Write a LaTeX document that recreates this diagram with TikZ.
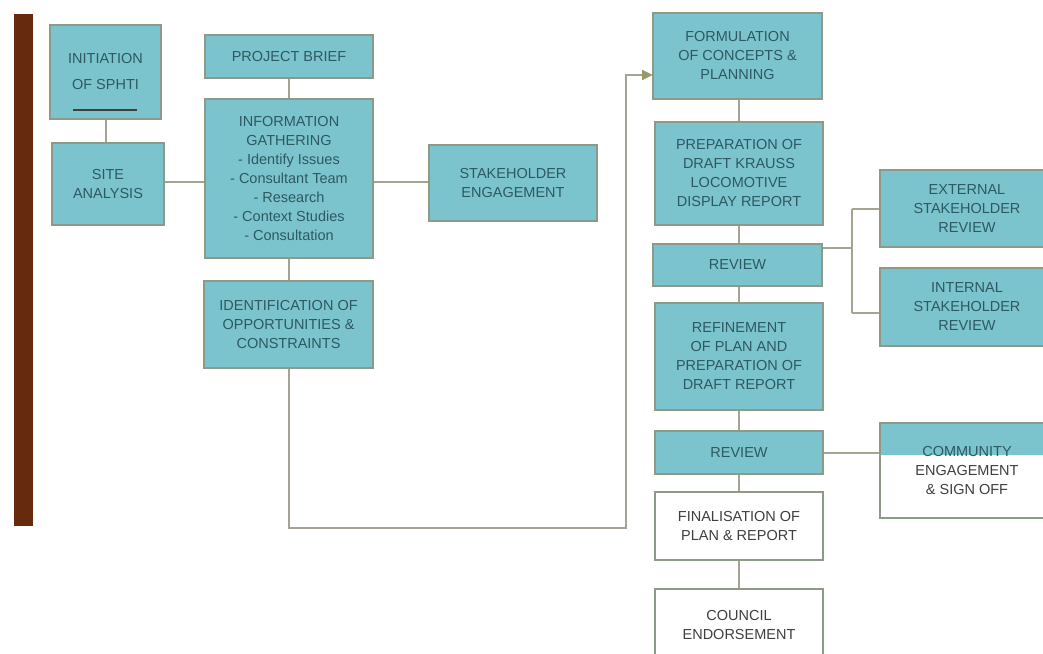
\documentclass[tikz,border=0pt]{standalone}
\usepackage{fontspec}
\setmainfont{Liberation Sans}
\usetikzlibrary{arrows.meta,calc}
\definecolor{boxfill}{HTML}{7CC4CD}
\definecolor{boxline}{HTML}{8E9A88}
\definecolor{boxtext}{HTML}{2D5963}
\definecolor{linkcol}{HTML}{A7A393}
\definecolor{arrowcol}{HTML}{9B9667}
\definecolor{barcol}{HTML}{662A0C}
\definecolor{greytext}{HTML}{3F3F3F}
\begin{document}
\begin{tikzpicture}[x=1pt,y=-1pt,
  box/.style={draw=boxline,line width=1.6pt,fill=boxfill,text=boxtext,align=center,inner sep=0pt,
    font=\fontsize{14.5}{19}\selectfont},
  wbox/.style={box,fill=white,text=greytext},
  link/.style={draw=linkcol,line width=2pt}]
\useasboundingbox (0,0) rectangle (1043,653);
\fill[barcol] (14,14) rectangle (33,526);

% left column
\node[box,minimum width=111pt,minimum height=94pt] (init) at (105.5,72) {INITIATION\\[7pt]OF SPHTI};
\draw[greytext,line width=1.2pt] (73,110) -- (137,110);
\node[box,minimum width=112pt,minimum height=82pt] (site) at (108,184) {SITE\\ANALYSIS};

% second column
\node[box,minimum width=168pt,minimum height=43pt] (brief) at (289,56.5) {PROJECT BRIEF};
\node[box,minimum width=168pt,minimum height=159pt] (info) at (289,178.5)
  {INFORMATION\\GATHERING\\- Identify Issues\\- Consultant Team\\- Research\\- Context Studies\\- Consultation};
\node[box,minimum width=169pt,minimum height=87pt] (ident) at (288.5,324.5)
  {IDENTIFICATION OF\\OPPORTUNITIES \&\\CONSTRAINTS};
\node[box,minimum width=168pt,minimum height=76pt] (stake) at (513,183) {STAKEHOLDER\\ENGAGEMENT};

% main column
\node[box,minimum width=169pt,minimum height=86pt] (form) at (737.5,56) {FORMULATION\\OF CONCEPTS \&\\PLANNING};
\node[box,minimum width=168pt,minimum height=103pt] (prep) at (739,173.5) {PREPARATION OF\\DRAFT KRAUSS\\LOCOMOTIVE\\DISPLAY REPORT};
\node[box,minimum width=169pt,minimum height=42pt] (rev1) at (737.5,265) {REVIEW};
\node[box,minimum width=168pt,minimum height=107pt] (refine) at (739,356.5) {REFINEMENT\\OF PLAN AND\\PREPARATION OF\\DRAFT REPORT};
\node[box,minimum width=168pt,minimum height=43pt] (rev2) at (739,452.5) {REVIEW};
\node[wbox,minimum width=168pt,minimum height=68pt] (final) at (739,526) {FINALISATION OF\\PLAN \& REPORT};
\node[wbox,minimum width=168pt,minimum height=72pt] (council) at (739,625) {COUNCIL\\ENDORSEMENT};

% right column
\node[box,minimum width=174pt,minimum height=77pt] (ext) at (967,208.5) {EXTERNAL\\STAKEHOLDER\\REVIEW};
\node[box,minimum width=174pt,minimum height=78pt] (int) at (967,307) {INTERNAL\\STAKEHOLDER\\REVIEW};
\node[wbox,minimum width=174pt,minimum height=95pt,
  path picture={\fill[boxfill] (path picture bounding box.north west) rectangle ([yshift=-32pt]path picture bounding box.north east);}]
  (comm) at (967,470.5) {{\color{boxtext}COMMUNITY}\\ENGAGEMENT\\\& SIGN OFF};

% connectors
\draw[link] (init.south) -- (init.south |- site.north);
\draw[link] (brief.south) -- (info.north);
\draw[link] ([yshift=2pt]site.east) -- ([yshift=2pt]site.east -| info.west);
\draw[link] ([yshift=1pt]stake.west -| info.east) -- ([yshift=1pt]stake.west);
\draw[link] (info.south) -- (info.south |- ident.north);
\coordinate (turn) at (626,528);
\coordinate (up) at (626,75);
\draw[link] (ident.south) |- (turn) -- (up) -- ([xshift=-9pt]up -| form.west);
\draw[draw=arrowcol,fill=arrowcol] ([xshift=-10pt,yshift=5pt]up -| form.west) -- (up -| form.west) -- ([xshift=-10pt,yshift=-5pt]up -| form.west) -- cycle;

\draw[link] (form.south -| prep.north) -- (prep.north);
\draw[link] (prep.south) -- (prep.south |- rev1.north);
\draw[link] (rev1.south -| refine.north) -- (refine.north);
\draw[link] (refine.south) -- (rev2.north);
\draw[link] (rev2.south) -- (final.north);
\draw[link] (final.south) -- (council.north);

\coordinate (r1out) at ([yshift=17pt]rev1.east);
\coordinate (split) at (852,248);
\draw[link] (r1out) -- (split);
\draw[link] (split |- ext.west) -- (split |- 0,313);
\draw[link] (split |- ext.west) -- (ext.west);
\draw[link] (split |- 0,313) -- (int.west |- 0,313);
\draw[link] (rev2.east) -- (rev2.east -| comm.west);
\end{tikzpicture}
\end{document}
